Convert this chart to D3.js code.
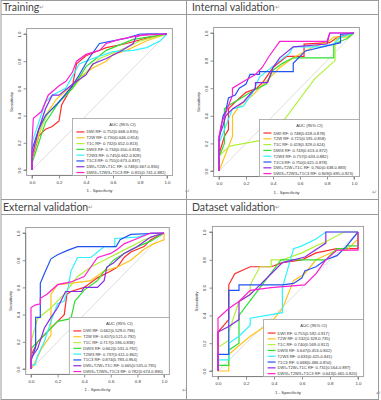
<!DOCTYPE html>
<html>
<head>
<meta charset="utf-8">
<script src="https://cdn.jsdelivr.net/npm/d3@7"></script>
<style>
  body { margin: 0; background: #fff; }
  svg { display: block; font-family: "Liberation Sans", Arial, sans-serif; }
</style>
</head>
<body>
<div id="chart"></div>
<script>
// model names (legend order) and their line colours
const models = ['DWI RF', 'T2W RF', 'T1C RF', 'DWI3 RF', 'T2W3 RF', 'T1C3 RF', 'DWI+T2W+T1C RF', 'DWI3+T2W3+T1C3 RF'];
const colors = ['#ff2a2a', '#ffc21c', '#b2f03c', '#2ee02e', '#2ef2ff', '#2452f2', '#8a2be2', '#ff1ed2'];
const tickValues = [0, 0.2, 0.4, 0.6, 0.8, 1];
const titles = ['Training', 'Internal validation', 'External validation', 'Dataset validation'];

// AUC (95% CI) labels per panel
const trainingAuc = ['0.752(0.668-0.835)', '0.730(0.646-0.814)', '0.732(0.652-0.813)', '0.734(0.650-0.818)',
    '0.745(0.662-0.828)', '0.755(0.673-0.837)', '0.748(0.667-0.830)', '0.811(0.741-0.882)'];
const internalAuc = ['0.748(0.618-0.878)', '0.725(0.591-0.858)', '0.419(0.329-0.624)', '0.743(0.613-0.872)',
    '0.757(0.633-0.882)', '0.750(0.621-0.878)', '0.760(0.638-0.883)', '0.809(0.695-0.923)'];
const externalAuc = ['0.662(0.529-0.796)', '0.657(0.521-0.792)', '0.717(0.596-0.838)', '0.662(0.531-0.792)',
    '0.737(0.611-0.862)', '0.874(0.783-0.964)', '0.665(0.535-0.795)', '0.782(0.674-0.890)'];
const datasetAuc = ['0.755(0.592-0.917)', '0.532(0.329-0.735)', '0.740(0.569-0.912)', '0.647(0.453-0.842)',
    '0.633(0.425-0.841)', '0.668(0.486-0.850)', '0.731(0.564-0.897)', '0.643(0.465-0.820)'];

// ROC curves, [1 - specificity, sensitivity]
const trainingRoc = [
    [[0,0],[0,0.08],[0.05,0.25],[0.1,0.3],[0.15,0.32],[0.2,0.36],[0.22,0.48],[0.3,0.62],[0.33,0.78],[0.4,0.84],[0.45,0.86],[0.55,0.9],[0.7,0.93],[0.85,0.97],[1,1]],
    [[0,0],[0,0.1],[0.05,0.25],[0.1,0.4],[0.18,0.52],[0.25,0.58],[0.35,0.68],[0.45,0.75],[0.55,0.8],[0.6,0.85],[0.7,0.88],[0.85,0.95],[1,1]],
    [[0,0],[0,0.1],[0.05,0.28],[0.12,0.42],[0.2,0.5],[0.3,0.6],[0.4,0.72],[0.5,0.82],[0.6,0.86],[0.7,0.9],[0.8,0.95],[1,1]],
    [[0,0],[0,0.05],[0.05,0.2],[0.1,0.35],[0.2,0.5],[0.3,0.6],[0.4,0.76],[0.45,0.8],[0.55,0.88],[0.65,0.92],[0.75,0.96],[1,1]],
    [[0,0],[0,0.2],[0.05,0.35],[0.1,0.5],[0.15,0.55],[0.25,0.6],[0.35,0.78],[0.45,0.82],[0.6,0.87],[0.75,0.88],[0.85,0.9],[0.95,0.95],[1,1]],
    [[0,0],[0,0.15],[0.05,0.3],[0.1,0.4],[0.2,0.5],[0.3,0.62],[0.35,0.7],[0.42,0.82],[0.5,0.93],[0.6,0.95],[0.7,0.97],[0.8,1],[1,1]],
    [[0,0],[0,0.1],[0.05,0.3],[0.1,0.45],[0.15,0.55],[0.2,0.55],[0.3,0.63],[0.4,0.7],[0.45,0.78],[0.55,0.82],[0.65,0.87],[0.75,0.93],[0.77,0.98],[0.85,1],[1,1]],
    [[0,0],[0,0.2],[0.01,0.38],[0.07,0.43],[0.12,0.55],[0.2,0.62],[0.25,0.65],[0.3,0.72],[0.33,0.8],[0.4,0.85],[0.5,0.88],[0.55,0.93],[0.65,0.96],[0.8,0.99],[1,1]]
];
const internalRoc = [
    [[0,0],[0,0.12],[0.04,0.25],[0.07,0.3],[0.07,0.45],[0.12,0.5],[0.2,0.57],[0.28,0.6],[0.33,0.65],[0.4,0.75],[0.5,0.83],[0.63,0.83],[0.63,0.92],[0.82,0.93],[0.88,0.97],[1,1]],
    [[0,0],[0.04,0.1],[0.1,0.25],[0.1,0.4],[0.15,0.47],[0.25,0.55],[0.35,0.65],[0.45,0.75],[0.55,0.82],[0.7,0.9],[0.8,0.93],[0.85,0.97],[0.95,0.97],[1,1]],
    [[0,0],[0,0.11],[0.08,0.18],[0.3,0.22],[0.49,0.38],[0.71,0.67],[0.86,0.8],[0.86,0.95],[1,1]],
    [[0,0],[0,0.1],[0.04,0.2],[0.04,0.45],[0.08,0.48],[0.15,0.52],[0.25,0.58],[0.35,0.63],[0.4,0.73],[0.47,0.78],[0.55,0.82],[0.85,0.82],[0.85,0.92],[0.95,0.96],[1,1]],
    [[0,0],[0,0.2],[0.04,0.3],[0.1,0.45],[0.18,0.47],[0.25,0.57],[0.3,0.68],[0.35,0.72],[0.45,0.8],[0.52,0.85],[0.55,0.9],[0.75,0.9],[0.85,0.92],[0.9,0.97],[1,1]],
    [[0,0],[0,0.22],[0.03,0.4],[0.05,0.43],[0.07,0.53],[0.12,0.55],[0.15,0.6],[0.2,0.63],[0.23,0.7],[0.3,0.7],[0.3,0.72],[0.55,0.72],[0.55,0.78],[0.64,0.87],[0.9,0.93],[0.9,0.99],[1,1]],
    [[0,0],[0,0.25],[0.03,0.33],[0.05,0.4],[0.1,0.45],[0.18,0.5],[0.27,0.6],[0.27,0.64],[0.36,0.64],[0.4,0.75],[0.45,0.82],[0.55,0.9],[0.8,0.92],[0.82,1],[1,1]],
    [[0,0],[0,0.25],[0.02,0.35],[0.05,0.42],[0.1,0.55],[0.1,0.6],[0.2,0.66],[0.27,0.7],[0.32,0.75],[0.37,0.83],[0.45,0.94],[0.8,0.94],[0.82,1],[1,1]]
];
const externalRoc = [
    [[0,0],[0,0.1],[0.05,0.2],[0.1,0.25],[0.15,0.3],[0.2,0.35],[0.25,0.4],[0.27,0.55],[0.3,0.57],[0.4,0.6],[0.5,0.67],[0.6,0.72],[0.65,0.75],[0.7,0.82],[0.75,0.86],[0.85,0.9],[0.9,0.95],[1,1]],
    [[0,0],[0.03,0.05],[0.08,0.15],[0.15,0.25],[0.15,0.55],[0.2,0.62],[0.3,0.63],[0.45,0.65],[0.55,0.72],[0.65,0.75],[0.75,0.8],[0.85,0.88],[0.92,0.92],[1,0.95],[1,1]],
    [[0,0],[0,0.2],[0.05,0.37],[0.15,0.45],[0.25,0.55],[0.35,0.68],[0.45,0.75],[0.55,0.8],[0.65,0.85],[0.75,0.9],[0.85,0.95],[1,1]],
    [[0,0],[0,0.15],[0.05,0.2],[0.15,0.3],[0.2,0.35],[0.3,0.37],[0.33,0.5],[0.4,0.58],[0.5,0.65],[0.55,0.72],[0.62,0.8],[0.7,0.85],[0.8,0.9],[0.9,0.94],[1,1]],
    [[0,0],[0,0.03],[0.03,0.03],[0.05,0.1],[0.1,0.2],[0.15,0.35],[0.2,0.48],[0.25,0.5],[0.28,0.6],[0.3,0.72],[0.35,0.82],[0.45,0.82],[0.55,0.9],[0.63,0.9],[0.63,0.96],[0.8,0.97],[0.9,1],[1,1]],
    [[0,0],[0,0.06],[0.035,0.16],[0.035,0.38],[0.07,0.38],[0.07,0.63],[0.1,0.7],[0.15,0.81],[0.2,0.84],[0.27,0.87],[0.35,0.9],[0.64,0.9],[0.67,0.95],[0.75,0.99],[1,1]],
    [[0,0],[0,0.08],[0.05,0.15],[0.1,0.3],[0.15,0.38],[0.2,0.45],[0.26,0.57],[0.38,0.57],[0.4,0.6],[0.5,0.6],[0.55,0.65],[0.57,0.75],[0.62,0.78],[0.7,0.85],[0.8,0.9],[0.9,0.97],[1,1]],
    [[0,0],[0,0.45],[0.03,0.47],[0.07,0.48],[0.07,0.52],[0.12,0.55],[0.2,0.62],[0.3,0.64],[0.4,0.68],[0.45,0.75],[0.5,0.82],[0.6,0.85],[0.65,0.88],[0.7,0.92],[0.8,0.96],[0.9,1],[1,1]]
];
const datasetRoc = [
    [[0,0],[0,0.28],[0.077,0.37],[0.077,0.62],[0.12,0.7],[0.23,0.75],[0.38,0.75],[0.46,0.78],[0.6,0.8],[0.7,0.85],[0.85,0.88],[1,0.88],[1,1]],
    [[0,0],[0.077,0],[0.077,0.12],[0.23,0.25],[0.38,0.35],[0.46,0.45],[0.54,0.65],[0.62,0.7],[0.7,0.8],[0.85,0.87],[0.92,0.87],[1,0.95],[1,1]],
    [[0,0],[0,0.17],[0.077,0.22],[0.077,0.28],[0.15,0.5],[0.23,0.55],[0.23,0.62],[0.3,0.75],[0.38,0.75],[0.38,0.8],[0.46,0.8],[0.6,0.85],[0.7,0.9],[0.77,0.93],[0.9,1],[1,1]],
    [[0,0],[0,0.04],[0.077,0.04],[0.077,0.15],[0.15,0.2],[0.15,0.4],[0.3,0.6],[0.45,0.8],[0.77,0.8],[0.85,0.88],[0.92,0.88],[0.92,0.9],[1,0.9],[1,1]],
    [[0,0],[0,0.08],[0.077,0.08],[0.077,0.2],[0.15,0.25],[0.23,0.33],[0.23,0.38],[0.46,0.42],[0.46,0.6],[0.54,0.88],[0.6,0.9],[0.7,0.95],[0.77,1],[1,1]],
    [[0,0],[0,0.12],[0.077,0.12],[0.077,0.58],[0.15,0.58],[0.15,0.62],[0.46,0.62],[0.54,0.63],[0.6,0.67],[0.62,0.72],[0.7,0.75],[0.77,0.8],[0.85,0.83],[0.92,0.9],[1,1]],
    [[0,0],[0,0.28],[0.077,0.32],[0.15,0.37],[0.15,0.5],[0.23,0.55],[0.3,0.62],[0.38,0.7],[0.46,0.78],[0.54,0.8],[0.62,0.82],[0.77,0.92],[0.77,1],[1,1]],
    [[0,0],[0,0.38],[0.077,0.45],[0.15,0.5],[0.23,0.58],[0.38,0.6],[0.62,0.62],[0.7,0.7],[0.77,0.8],[0.85,0.87],[1,0.87],[1,1]]
];

const W = 381, H = 400;
const svg = d3.select('#chart').append('svg')
    .attr('width', W)
    .attr('height', H);

// word-table grid
const gridColor = '#9a9a9a';
[0.5, 14.5, 199.5, 214.5, 399.5].forEach(yy => {
    svg.append('line').attr('x1', 1).attr('x2', 379).attr('y1', yy).attr('y2', yy)
        .attr('stroke', gridColor).attr('stroke-width', 1);
});
[1, 186.5, 378.5].forEach(xx => {
    svg.append('line').attr('x1', xx).attr('x2', xx).attr('y1', 0).attr('y2', 400)
        .attr('stroke', gridColor).attr('stroke-width', 1);
});

// panel placement: pixel positions of 0 and 1 on each axis
const panels = [
    { title: titles[0], tx: 3,   ty: 11,  x0: 32,  x1: 167, y0: 170, y1: 34,  roc: trainingRoc, auc: trainingAuc, mark: [185, 193] },
    { title: titles[1], tx: 192, ty: 11,  x0: 219, x1: 354, y0: 171, y1: 33,  roc: internalRoc, auc: internalAuc, mark: [372, 194] },
    { title: titles[2], tx: 3,   ty: 211, x0: 31,  x1: 164, y0: 369, y1: 233, roc: externalRoc, auc: externalAuc, mark: [182, 392] },
    { title: titles[3], tx: 192, ty: 211, x0: 218, x1: 358, y0: 371, y1: 232, roc: datasetRoc, auc: datasetAuc, mark: [376, 395] }
];

panels.forEach(drawPanel);

function drawPanel(p) {
    const g = svg.append('g');

    // cell title with the paragraph mark
    const t = g.append('text')
        .attr('x', p.tx)
        .attr('y', p.ty)
        .attr('font-family', 'Lato, "Open Sans", sans-serif')
        .attr('font-size', 10.5)
        .attr('fill', '#444')
        .text(p.title);
    t.append('tspan').attr('font-size', 6).attr('fill', '#999').attr('dy', -2).text('↵');
    g.append('text').attr('x', p.mark[0]).attr('y', p.mark[1])
        .attr('font-size', 6).attr('fill', '#999').text('↵');

    const x = d3.scaleLinear().domain([0, 1]).range([p.x0, p.x1]);
    const y = d3.scaleLinear().domain([0, 1]).range([p.y0, p.y1]);
    const fx0 = x(-0.04), fx1 = x(1.04), fy0 = y(-0.04), fy1 = y(1.04);

    // chance line
    g.append('line')
        .attr('x1', x(0)).attr('y1', y(0))
        .attr('x2', x(1)).attr('y2', y(1))
        .attr('stroke', '#d4d4d4')
        .attr('stroke-width', 0.8);

    const line = d3.line()
        .x(d => x(d[0]))
        .y(d => y(d[1]));

    g.selectAll('.roc')
        .data(p.roc)
        .enter()
        .append('path')
        .attr('class', 'roc')
        .attr('d', line)
        .attr('fill', 'none')
        .attr('stroke', (d, i) => colors[i])
        .attr('stroke-width', 1.2);

    // plot frame
    g.append('rect')
        .attr('x', fx0).attr('y', fy1)
        .attr('width', fx1 - fx0).attr('height', fy0 - fy1)
        .attr('fill', 'none')
        .attr('stroke', '#a0a0a0')
        .attr('stroke-width', 1);

    // axes
    const fmt = d3.format('.1f');
    const xAxis = g.append('g')
        .attr('transform', `translate(0,${fy0})`)
        .call(d3.axisBottom(x).tickValues(tickValues).tickFormat(fmt).tickSize(3).tickPadding(2));
    const yAxis = g.append('g')
        .attr('transform', `translate(${fx0},0)`)
        .call(d3.axisLeft(y).tickValues(tickValues).tickFormat(fmt).tickSize(3).tickPadding(2));
    [xAxis, yAxis].forEach(a => {
        a.select('.domain').attr('stroke', '#777').attr('stroke-width', 0.8);
        a.selectAll('.tick line').attr('stroke', '#777').attr('stroke-width', 0.8);
        a.selectAll('text').attr('font-size', 4.4).attr('fill', '#333')
            .attr('font-family', '"Liberation Sans", Arial, sans-serif');
    });
    yAxis.select('.domain').attr('d', `M-3,${y(0)}H0V${y(1)}H-3`);
    xAxis.select('.domain').attr('d', `M${x(0)},3V0H${x(1)}V3`);
    yAxis.selectAll('.tick text')
        .attr('transform', 'rotate(-90)')
        .attr('text-anchor', 'middle')
        .attr('x', 0)
        .attr('y', -6)
        .attr('dy', 0);

    g.append('text')
        .attr('text-anchor', 'middle')
        .attr('x', (x(0) + x(1)) / 2)
        .attr('y', fy0 + 17)
        .attr('font-size', 4.4)
        .attr('fill', '#333')
        .text('1 - Specificity');

    g.append('text')
        .attr('text-anchor', 'middle')
        .attr('transform', `translate(${fx0 - 14},${(y(0) + y(1)) / 2}) rotate(-90)`)
        .attr('font-size', 4.4)
        .attr('fill', '#333')
        .text('Sensitivity');

    // legend
    const lw = 100, lh = 57;
    const lg = g.append('g').attr('transform', `translate(${fx1 - lw},${fy0 - lh})`);
    lg.append('rect')
        .attr('width', lw).attr('height', lh)
        .attr('fill', '#fff')
        .attr('stroke', '#a0a0a0')
        .attr('stroke-width', 0.8);
    lg.append('text')
        .attr('x', lw / 2).attr('y', 7.5)
        .attr('text-anchor', 'middle')
        .attr('font-size', 4.2)
        .attr('fill', '#333')
        .text('AUC (95% CI)');
    models.forEach((m, i) => {
        const yy = 13.5 + i * 5.8;
        lg.append('line')
            .attr('x1', 4).attr('x2', 12)
            .attr('y1', yy).attr('y2', yy)
            .attr('stroke', colors[i])
            .attr('stroke-width', 1.2);
        lg.append('text')
            .attr('x', 14).attr('y', yy + 1.5)
            .attr('font-size', 4.1)
            .attr('fill', '#333')
            .text(`${m}: ${p.auc[i]}`);
    });
}
</script>
</body>
</html>
